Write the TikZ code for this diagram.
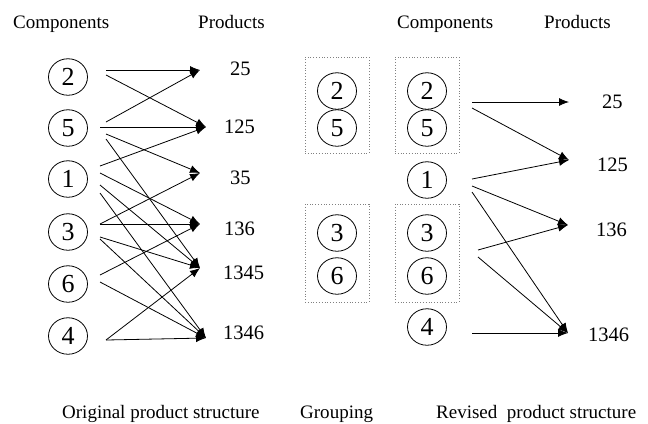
\documentclass[tikz,border=0pt]{standalone}
\usepackage{fontspec}
\setmainfont{Liberation Serif}
\usetikzlibrary{arrows.meta,shapes.geometric}
\begin{document}
\begin{tikzpicture}[x=1bp,y=-1bp,
  comp/.style={ellipse,draw,line width=0.8bp,minimum width=39bp,minimum height=36.5bp,inner sep=0pt,font=\fontsize{26bp}{28bp}\selectfont},
  prod/.style={anchor=west,inner sep=0pt,font=\fontsize{20.5bp}{24bp}\selectfont},
  lbl/.style={anchor=base west,inner sep=0pt,font=\fontsize{19bp}{23bp}\selectfont},
  link/.style={line width=0.8bp,-{Latex[length=10bp,width=8bp]}},
  grp/.style={draw=gray,dotted,line width=0.8bp,minimum width=64bp,inner sep=0pt}]
\useasboundingbox (0,0) rectangle (648,423);
% headers
\node[lbl] (h1) at (13,28) {Components};
\node[lbl] (h2) at (198,28) {Products};
\node[lbl] (h3) at (397,28) {Components};
\node[lbl] (h4) at (544,28) {Products};
% bottom labels
\node[lbl] (b1) at (62,418) {Original product structure};
\node[lbl] (b2) at (300,418) {Grouping};
\node[lbl] (b3) at (436,418) {Revised\ \ product structure};
% ---------------- left: original structure
\node[comp] (c2) at (68,77) {2};
\node[comp] (c5) at (68,128) {5};
\node[comp] (c1) at (68,179) {1};
\node[comp] (c3) at (68,232) {3};
\node[comp] (c6) at (68,284) {6};
\node[comp] (c4) at (68,336) {4};
\node[prod] (p25) at (230,69) {25};
\node[prod] (p125) at (224,127) {125};
\node[prod] (p35) at (230,178) {35};
\node[prod] (p136) at (224,229) {136};
\node[prod] (p1345) at (223,273) {1345};
\node[prod] (p1346) at (223,333) {1346};
\coordinate (t25) at (200,70);
\coordinate (t125) at (206,127);
\coordinate (t35) at (200,173);
\coordinate (t136) at (200,224);
\coordinate (t1345) at (200,268);
\coordinate (t1346) at (206,338);
\coordinate (s2a) at (106,70);
\coordinate (s2b) at (106,75);
\coordinate (s5a) at (106,122);
\coordinate (s5b) at (100,127);
\coordinate (s5c) at (106,134);
\coordinate (s5d) at (106,139);
\coordinate (s1a) at (100,166);
\coordinate (s1b) at (100,173);
\coordinate (s1c) at (100,185);
\coordinate (s1d) at (100,193);
\coordinate (s3a) at (100,224);
\coordinate (s3b) at (100,237);
\coordinate (s3c) at (100,239);
\coordinate (s6a) at (100,275);
\coordinate (s6b) at (100,282);
\coordinate (s4a) at (106,340);
\draw[link] (s2a) -- (t25);
\draw[link] (s2b) -- (t125);
\draw[link] (s5a) -- (t25);
\draw[link] (s5b) -- (t125);
\draw[link] (s5c) -- (t35);
\draw[link] (s5d) -- (t1345);
\draw[link] (s1a) -- (t125);
\draw[link] (s1b) -- (t136);
\draw[link] (s1c) -- (t1345);
\draw[link] (s1d) -- (t1346);
\draw[link] (s3a) -- (t35);
\draw[link] (s3a) -- (t136);
\draw[link] (s3b) -- (t1345);
\draw[link] (s3c) -- (t1346);
\draw[link] (s6a) -- (t136);
\draw[link] (s6b) -- (t1346);
\draw[link] (s4a) -- (t1345);
\draw[link] (s4a) -- (t1346);
% ---------------- middle: grouping
\node[grp,minimum height=96bp] (gA) at (337,105) {};
\node[grp,minimum height=98bp] (gB) at (337,253) {};
\node[comp] (g2) at (337,91) {2};
\node[comp] (g5) at (337,128) {5};
\node[comp] (g3) at (337,233) {3};
\node[comp] (g6) at (337,276) {6};
% ---------------- right: revised structure
\node[grp,minimum height=96bp] (rA) at (427,105) {};
\node[grp,minimum height=98bp] (rB) at (427,253) {};
\node[comp] (r2) at (427,91) {2};
\node[comp] (r5) at (427,128) {5};
\node[comp] (r1) at (427,180) {1};
\node[comp] (r3) at (427,233) {3};
\node[comp] (r6) at (427,276) {6};
\node[comp] (r4) at (427,327) {4};
\node[prod] (q25) at (602,102) {25};
\node[prod] (q125) at (597,165) {125};
\node[prod] (q136) at (596,230) {136};
\node[prod] (q1346) at (588,335) {1346};
\coordinate (u25) at (569,102);
\coordinate (u125) at (569,160);
\coordinate (u136) at (568,225);
\coordinate (u1346) at (568,333);
\coordinate (vA1) at (472,102);
\coordinate (vA2) at (472,108);
\coordinate (v1a) at (472,179);
\coordinate (v1b) at (472,186);
\coordinate (v1c) at (472,192);
\coordinate (vB1) at (478,250);
\coordinate (vB2) at (478,257);
\coordinate (v4) at (472,333);
\draw[link] (vA1) -- (u25);
\draw[link] (vA2) -- (u125);
\draw[link] (v1a) -- (u125);
\draw[link] (v1b) -- (u136);
\draw[link] (v1c) -- (u1346);
\draw[link] (vB1) -- (u136);
\draw[link] (vB2) -- (u1346);
\draw[link] (v4) -- (u1346);
\end{tikzpicture}
\end{document}
